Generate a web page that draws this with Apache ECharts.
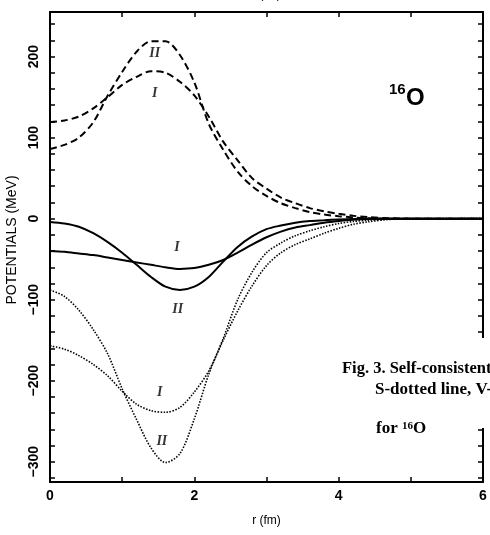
<!DOCTYPE html>
<html>
<head>
<meta charset="utf-8">
<script src="https://cdn.jsdelivr.net/npm/echarts@6/dist/echarts.min.js"></script>
<style>
html,body{margin:0;padding:0;background:#fff;}
#main{width:490px;height:535px;}
</style>
</head>
<body>
<div id="main"></div>
<script>
// radius grid (fm)
var rVals = [0, 0.2, 0.4, 0.6, 0.8, 1.0, 1.2, 1.4, 1.6, 1.8, 2.0, 2.2, 2.4, 2.6, 2.8, 3.0, 3.2, 3.4, 3.6, 3.8, 4.0, 4.2, 4.4, 4.7, 5.0, 6.0];

// dashed curves (V)
var dashI  = [119, 121, 126, 136, 150, 165, 175, 182, 180, 169, 152, 126, 95, 72, 50, 37, 26, 19, 13, 9, 6, 3.5, 2, 0.5, 0, 0];
var dashII = [86, 91, 100, 119, 152, 181, 206, 219, 219, 202, 168, 117, 85, 58, 40, 28, 19, 13, 8, 5, 3, 1.5, 0.5, 0, 0, 0];
// solid curves
var solidI  = [-40, -41, -43, -45, -48, -51, -54, -57, -60, -62, -61, -57, -51, -42, -32, -23, -16, -11, -8, -5, -3, -1.5, -0.5, 0, 0, 0];
var solidII = [-4, -6, -10, -18, -29, -42, -57, -72, -84, -88, -84, -72, -53, -35, -22, -13, -8.5, -5, -3, -2, -1, -0.3, 0, 0, 0, 0];
// dotted curves (S)
var dotI  = [-157, -161, -169, -180, -194, -213, -229, -237, -239, -233, -214, -188, -150, -114, -83, -58, -42, -32, -25, -18, -12, -7, -4, -1, -0.3, 0];
var dotII = [-88, -96, -113, -137, -167, -210, -248, -283, -301, -290, -247, -192, -148, -100, -66, -42, -30, -21, -15, -10, -6, -3.5, -2, -0.5, 0, 0];

// axis ticks
var xLabelVals = [0, 2, 4, 6];
var yTickVals = [-320, -300, -280, -260, -240, -220, -200, -180, -160, -140, -120, -100, -80, -60, -40, -20,
                 0, 20, 40, 60, 80, 100, 120, 140, 160, 180, 200, 220, 240];
var yLabelVals = [-300, -200, -100, 0, 100, 200];

// curve tags
var tagR = [1.45, 1.45, 1.76, 1.77, 1.52, 1.55];
var tagV = [204, 155, -36, -112, -214, -275];
var tagText = ['II', 'I', 'I', 'II', 'I', 'II'];

function pairs(vals) {
	var out = [];
	for (var i = 0; i < rVals.length; i++) out.push([rVals[i], vals[i]]);
	return out;
}

function curve(name, vals, type, width) {
	return {
		name: name,
		type: 'line',
		data: pairs(vals),
		smooth: 0.3,
		symbol: 'none',
		silent: true,
		lineStyle: { color: '#000', width: width, type: type }
	};
}

var tagData = [];
for (var k = 0; k < tagR.length; k++) tagData.push({ value: [tagR[k], tagV[k]], name: tagText[k] });

var axisFont = 'Liberation Sans';
var frameLine = { onZero: false, lineStyle: { color: '#000', width: 2 } };
var inTick = { inside: true, length: 5, lineStyle: { color: '#000', width: 1.5 } };

var option = {
	animation: false,
	backgroundColor: '#fff',
	grid: { left: 50, right: 7, top: 12, bottom: 53, containLabel: false, outerBoundsMode: 'none' },
	xAxis: [{
		type: 'value', min: 0, max: 6, interval: 1,
		name: 'r (fm)', nameLocation: 'middle', nameGap: 33,
		nameTextStyle: { fontFamily: axisFont, fontSize: 12, color: '#000' },
		axisLine: frameLine,
		axisTick: inTick,
		axisLabel: { customValues: xLabelVals, margin: 7, fontFamily: axisFont, fontWeight: 'bold', fontSize: 14, color: '#000' },
		splitLine: { show: false }
	}, {
		type: 'value', position: 'top', min: 0, max: 6, interval: 1,
		name: 'r (fm)', nameLocation: 'middle', nameGap: 11,
		nameTextStyle: { fontFamily: axisFont, fontSize: 12, color: '#000' },
		axisLine: frameLine,
		axisTick: inTick,
		axisLabel: { show: false },
		splitLine: { show: false }
	}],
	yAxis: [{
		type: 'value', min: -325, max: 255,
		name: 'POTENTIALS (MeV)', nameLocation: 'middle', nameGap: 30, nameRotate: 90,
		nameTextStyle: { fontFamily: axisFont, fontSize: 14, color: '#000', padding: [0, 0, 0, 14] },
		axisLine: frameLine,
		axisTick: { inside: true, length: 5, customValues: yTickVals, lineStyle: { color: '#000', width: 1.5 } },
		axisLabel: {
			customValues: yLabelVals, rotate: 90, margin: 9,
			fontFamily: axisFont, fontWeight: 'bold', fontSize: 14, color: '#000',
			formatter: function (v) { return v < 0 ? '\u2212' + (-v) : '' + v; }
		},
		splitLine: { show: false }
	}, {
		type: 'value', position: 'right', min: -325, max: 255,
		axisLine: frameLine,
		axisTick: { inside: true, length: 5, customValues: yTickVals, lineStyle: { color: '#000', width: 1.5 } },
		axisLabel: { show: false },
		splitLine: { show: false }
	}],
	series: [
		curve('V I', dashI, [7, 4], 2),
		curve('V II', dashII, [7, 4], 2),
		curve('S I', dotI, [1.5, 1.5], 1.6),
		curve('S II', dotII, [1.5, 1.5], 1.6),
		curve('I', solidI, 'solid', 2),
		curve('II', solidII, 'solid', 2),
		{
			type: 'scatter',
			symbolSize: 0,
			silent: true,
			data: tagData,
			label: {
				show: true, position: 'inside', formatter: '{b}',
				fontFamily: 'Liberation Serif', fontStyle: 'italic', fontWeight: 'bold', fontSize: 14, color: '#000'
			}
		}
	],
	graphic: [
		{ type: 'text', left: 389, top: 82, z: 10,
		  style: { text: '16', font: 'bold 15px "Liberation Sans"', fill: '#000' } },
		{ type: 'text', left: 406, top: 86, z: 10,
		  style: { text: 'O', font: 'bold 24px "Liberation Sans"', fill: '#000' } },
		{ type: 'rect', shape: { x: 336, y: 338, width: 160, height: 90 }, z: 20,
		  style: { fill: '#fff' } },
		{ type: 'text', x: 342, y: 369, z: 21,
		  style: { text: 'Fig. 3. Self-consistent potentials', font: 'bold 16.5px "Liberation Serif"', fill: '#000', verticalAlign: 'middle' } },
		{ type: 'text', x: 375, y: 390, z: 21,
		  style: { text: 'S-dotted line, V-dashed line', font: 'bold 17px "Liberation Serif"', fill: '#000', verticalAlign: 'middle' } },
		{ type: 'text', x: 376, y: 429, z: 21,
		  style: {
			text: '{a|for }{s|16}{a|O}',
			verticalAlign: 'middle',
			rich: {
				a: { font: 'bold 17px "Liberation Serif"', fill: '#000', verticalAlign: 'bottom' },
				s: { font: 'bold 11px "Liberation Serif"', fill: '#000', verticalAlign: 'top' }
			}
		  } }
	]
};

var myChart = echarts.init(document.getElementById('main'));
myChart.setOption(option);
</script>
</body>
</html>
